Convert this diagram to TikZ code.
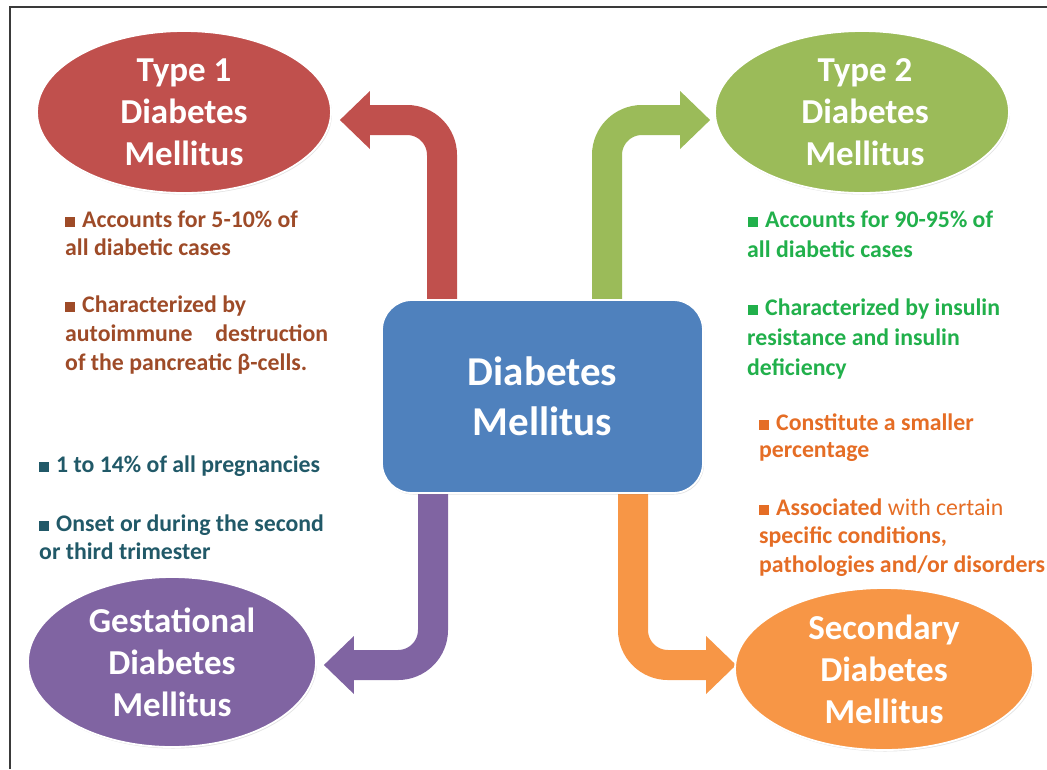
\documentclass[tikz,border=0pt]{standalone}
\usepackage{fontspec}
\setmainfont{Carlito}
\usetikzlibrary{arrows.meta,shapes.geometric,calc,shadows,backgrounds}
\definecolor{redf}{HTML}{C0504D}
\definecolor{greenf}{HTML}{9BBB59}
\definecolor{purplef}{HTML}{8064A2}
\definecolor{orangef}{HTML}{F79646}
\definecolor{bluef}{HTML}{4F81BD}
\definecolor{browntxt}{HTML}{9E4B28}
\definecolor{greentxt}{HTML}{21B04B}
\definecolor{orangetxt}{HTML}{E56D25}
\definecolor{tealtxt}{HTML}{215968}
\definecolor{framec}{HTML}{3A3A3A}
\newcommand\bulsq{\rule{10pt}{10pt}\hspace{7pt}}
\begin{document}
\begin{tikzpicture}[x=1pt,y=-1pt,
  oval/.style={ellipse, draw=white, line width=1.8pt, inner sep=0pt,
    minimum width=294pt, minimum height=162pt,
    drop shadow={opacity=0.22,shadow xshift=1pt,shadow yshift=-1.5pt}},
  ovaltext/.style={text=white, inner sep=0pt, align=center,
    font=\fontsize{35}{42}\selectfont\bfseries},
  centerbox/.style={draw=white, line width=1.8pt, fill=bluef, rounded corners=30pt,
    minimum width=321pt, minimum height=193pt, text=white, align=center,
    font=\fontsize{41}{50}\selectfont\bfseries,
    drop shadow={opacity=0.22,shadow xshift=1pt,shadow yshift=-1.5pt}},
  bl/.style={anchor=base west, inner sep=0pt, font=\fontsize{23.8}{28}\selectfont\bfseries},
  bigarrow/.style={line width=30pt, rounded corners=35pt,
    -{Triangle[length=30pt 0 0,width=58pt 0 0,line width=0pt 0 0]}},
  frameline/.style={draw=framec, line width=1.3pt}
]
\useasboundingbox (0,0) rectangle (1047,769);

\draw[frameline] (10,769) -- (10,7) -- (1047,7);

% central node
\node[centerbox] (dm) at (542.5,396.5) {Diabetes\\Mellitus};

% ellipses
\node[oval, fill=redf] (t1) at (184,112) {};
\node[ovaltext] (t1t) at (t1.center) {Type 1\\Diabetes\\Mellitus};
\node[oval, fill=greenf] (t2) at (862,112) {};
\node[ovaltext] (t2t) at ($(t2.center)+(3,0)$) {Type 2\\Diabetes\\Mellitus};
\node[oval, fill=purplef, minimum width=288pt, minimum height=170pt] (gd) at (172,662) {};
\node[ovaltext] (gdt) at (gd.center) {Gestational\\Diabetes\\Mellitus};
\node[oval, fill=orangef, minimum width=298pt] (sd) at (884,669) {};
\node[ovaltext] (sdt) at (sd.center) {Secondary\\Diabetes\\Mellitus};

% arrows
\begin{pgfonlayer}{background}
\draw[bigarrow, draw=redf] (442,0 |- dm.center) |- ($(t1.east)+(8,8)$);
\draw[bigarrow, draw=greenf] (607,0 |- dm.center) |- ($(t2.west)+(-4,8)$);
\draw[bigarrow, draw=purplef] (433,0 |- dm.center) |- ($(gd.east)+(7,3)$);
\draw[bigarrow, draw=orangef] (633,0 |- dm.center) |- ($(sd.west)+(2,-4)$);
\end{pgfonlayer}

% Type 1 text
\begin{scope}[every node/.append style={bl, text=browntxt}]
\node (a1) at (65,227) {\bulsq Accounts for 5-10\% of};
\node (a2) at (65,255) {all diabetic cases};
\node (a3) at (65,312) {\bulsq Characterized by};
\node (a4) at (65,341) {\makebox[263pt][s]{autoimmune destruction}};
\node (a5) at (65,370) {of the pancreatic β-cells.};
\end{scope}

% Type 2 text
\begin{scope}[every node/.append style={bl, text=greentxt}]
\node (b1) at (748,227) {\bulsq Accounts for 90-95\% of};
\node (b2) at (747,257) {all diabetic cases};
\node (b3) at (748,315) {\bulsq Characterized by insulin};
\node (b4) at (747,345) {resistance and insulin};
\node (b5) at (747,375) {deficiency};
\end{scope}

% Secondary text
\begin{scope}[every node/.append style={bl, text=orangetxt}]
\node (c1) at (759,430) {\bulsq Constitute a smaller};
\node (c2) at (759,457) {percentage};
\node (c3) at (759,515) {\bulsq Associated {\mdseries with certain}};
\node (c4) at (759,543) {specific conditions,};
\node (c5) at (759,572) {pathologies and/or disorders};
\end{scope}

% Gestational text
\begin{scope}[every node/.append style={bl, text=tealtxt}]
\node (d1) at (39,472) {\bulsq 1 to 14\% of all pregnancies};
\node (d2) at (39,531) {\bulsq Onset or during the second};
\node (d3) at (39,559) {or third trimester};
\end{scope}
\end{tikzpicture}
\end{document}
